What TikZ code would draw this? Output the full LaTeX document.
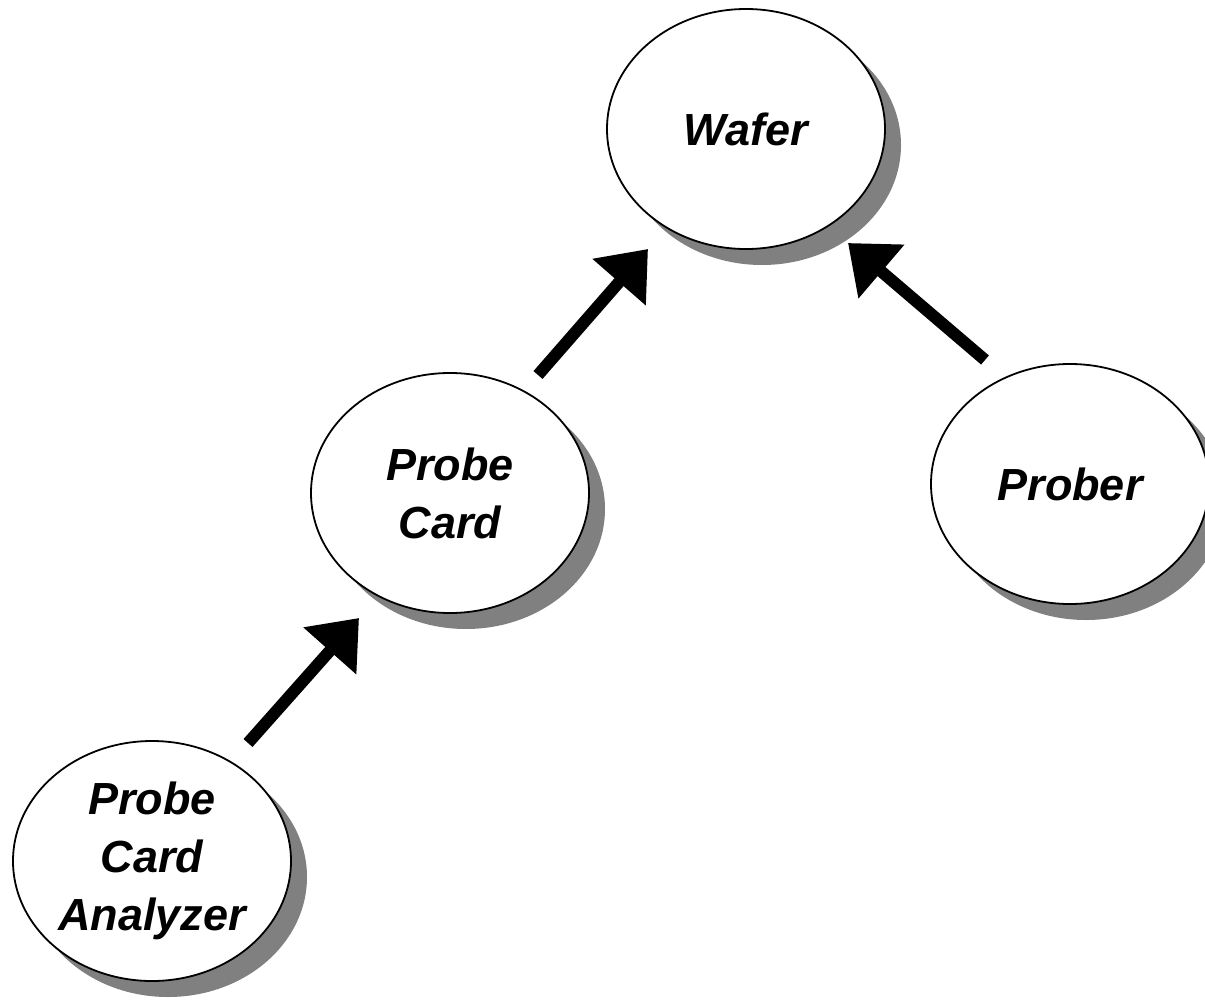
\documentclass[tikz,border=0pt]{standalone}
\usepackage{fontspec}
\setmainfont{Liberation Sans}
\usetikzlibrary{shapes.geometric,shadows,arrows.meta,calc}
\definecolor{shadowgray}{HTML}{808080}
\tikzset{
  bubble/.style={ellipse, draw=black, line width=1.8pt, fill=white,
    minimum width=278pt, minimum height=240pt, inner sep=0pt,
    align=center, font=\fontsize{45}{58}\selectfont\bfseries\itshape,
    drop shadow={shadow xshift=16pt, shadow yshift=-16pt, fill=shadowgray, opacity=1}},
  flow/.style={line width=12pt, -{Triangle[length=44pt, width=68pt]}}
}
\begin{document}
\begin{tikzpicture}[x=1pt, y=-1pt]
  \clip (0,0) rectangle (1205,1004);
  \useasboundingbox (0,0) rectangle (1205,1004);
  \node[bubble] (wafer)  at (746,129)  {Wafer};
  \node[bubble] (card)   at (450,493)  {Probe\\Card};
  \node[bubble] (prober) at (1070,484) {Prober};
  \node[bubble] (pca)    at (152,861)  {Probe\\Card\\Analyzer};
  % arrows start and stop a little away from the bubbles
  \draw[flow] ($(pca.center)+(96,-118)$) -- ($(card.center)+(-91,125)$);
  \draw[flow] ($(card.center)+(88,-118)$) -- ($(wafer.center)+(-98,120)$);
  \draw[flow] ($(prober.center)+(-85,-124)$) -- ($(wafer.center)+(102,114)$);
\end{tikzpicture}
\end{document}
